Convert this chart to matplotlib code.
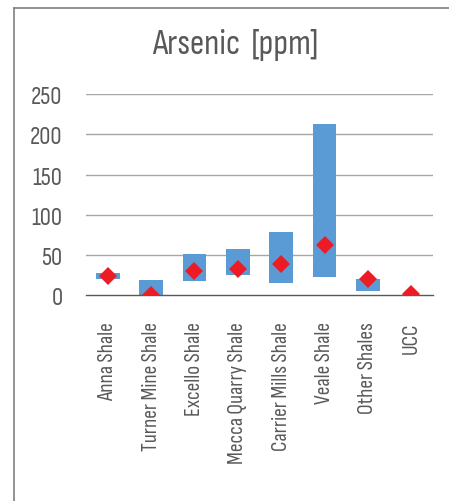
import matplotlib
matplotlib.use("Agg")
import matplotlib.pyplot as plt
from matplotlib.lines import Line2D
import numpy as np

categories = ["Anna Shale", "Turner Mine Shale", "Excello Shale", "Mecca Quarry Shale",
              "Carrier Mills Shale", "Veale Shale", "Other Shales", "UCC"]
range_min = [20, 0, 17, 25, 15, 23, 5, np.nan]
range_max = [27, 19, 51, 57, 79, 213, 20, np.nan]
mean_vals = [24, 0.5, 30, 33, 38, 62, 20, 1.5]
yticks = [0, 50, 100, 150, 200, 250]

plt.rcParams['font.family'] = ['Sofia Sans Condensed', 'Roboto Condensed', 'DejaVu Sans']

W, H = 449, 502
fig = plt.figure(figsize=(W / 100, H / 100), dpi=100)
ax = fig.add_axes([86 / W, 1 - 296 / H, (433 - 86) / W, (296 - 95.3) / H])

x = np.arange(len(categories))
mins = np.array(range_min, dtype=float)
maxs = np.array(range_max, dtype=float)
ax.bar(x, maxs - mins, bottom=mins, width=0.55, color="#5B9BD5", zorder=2)
ax.plot(x, mean_vals, linestyle="none", marker="D", markersize=9,
        color="#ED1C24", markeredgewidth=0, zorder=3)

ax.set_xlim(-0.5, len(categories) - 0.5)
ax.set_ylim(0, 250)
ax.set_yticks(yticks)
ax.set_yticklabels([str(v) for v in yticks])
ax.set_xticks(x)
ax.set_xticklabels(categories, rotation=90, va="top", ha="center")

for v in yticks[1:]:
    ax.axhline(v, color="#a6a6a6", linewidth=1.0, zorder=1)
for s in ["top", "right", "left"]:
    ax.spines[s].set_visible(False)
ax.spines["bottom"].set_color("#595959")
ax.spines["bottom"].set_linewidth(1.0)
ax.tick_params(axis="both", length=0, colors="#595959")
ax.tick_params(axis="y", pad=17, labelsize=18)
ax.tick_params(axis="x", pad=19, labelsize=15.5)

fig.text(235 / W, 1 - 45 / H, "Arsenic  [ppm]", ha="center", va="center",
         fontsize=25.5, color="#595959")

fig.add_artist(Line2D([14 / W, 14 / W], [0, 1 - 9 / H], transform=fig.transFigure,
                      color="#808080", linewidth=1.2))
fig.add_artist(Line2D([14 / W, 1], [1 - 9 / H, 1 - 9 / H], transform=fig.transFigure,
                      color="#808080", linewidth=1.2))

fig.savefig("out.png", dpi=100)
